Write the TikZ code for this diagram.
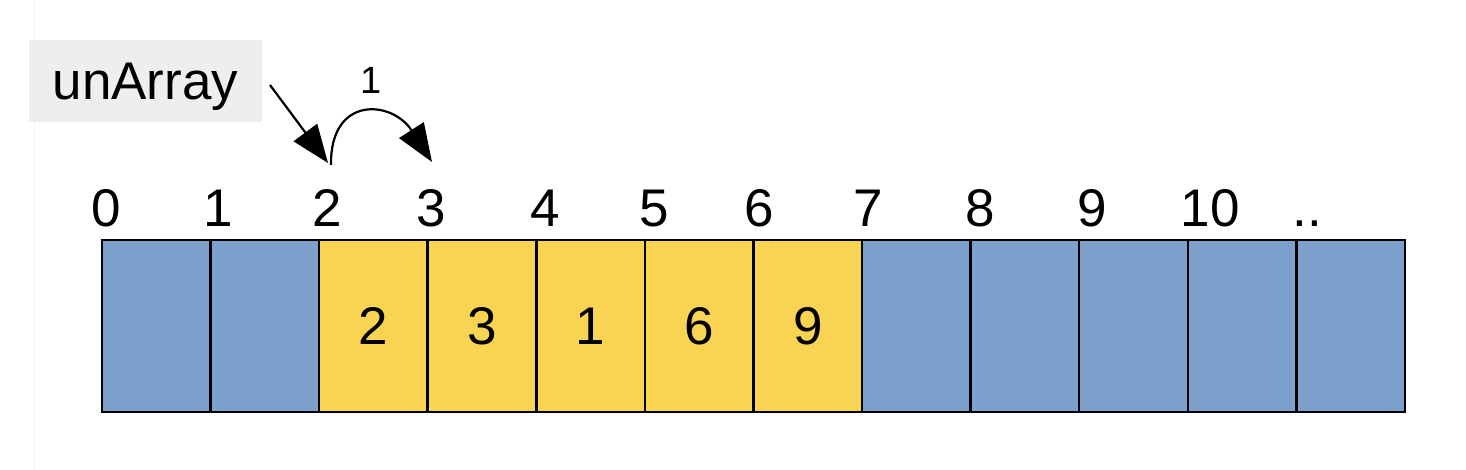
\documentclass[tikz,border=0pt]{standalone}
\usepackage{fontspec}
\setmainfont{Liberation Sans}
\usetikzlibrary{arrows.meta}
\definecolor{cellblue}{HTML}{7BA0CB}
\definecolor{cellyellow}{HTML}{F8D452}
\definecolor{boxgray}{HTML}{EEEEEE}
\tikzset{
  cell/.style={draw=black, line width=2.5pt, minimum width=108.6pt, minimum height=172pt, inner sep=0pt, outer sep=0pt, anchor=north west},
  bluecell/.style={cell, fill=cellblue},
  yelcell/.style={cell, fill=cellyellow},
  idx/.style={anchor=base, inner sep=0pt, font=\fontsize{53pt}{60pt}\selectfont},
  val/.style={anchor=base, inner sep=0pt, font=\fontsize{53pt}{60pt}\selectfont},
  bigarrow/.style={line width=2.2pt, -{Triangle[length=38pt,width=29pt]}},
}
\begin{document}
\begin{tikzpicture}[x=1pt,y=-1pt]
\useasboundingbox (0,0) rectangle (1466,470);
\draw[black!4, line width=1pt] (34,0) -- (34,470);
% label box
\node[fill=boxgray, minimum width=233pt, minimum height=82pt, inner sep=0pt, anchor=north west] (ubox) at (29,40) {};
\node[idx] (ulbl) at (145.5,100) {unArray};
% cells
\foreach \i/\s in {0/bluecell,1/bluecell,2/yelcell,3/yelcell,4/yelcell,5/yelcell,6/yelcell,7/bluecell,8/bluecell,9/bluecell,10/bluecell,11/bluecell}{
  \node[\s] (c\i) at ({102+108.58*\i},240) {};
}
% values
\foreach \i/\v in {2/2,3/3,4/1,5/6,6/9}{
  \node[val] (v\i) at ([yshift=-18pt]c\i.center) {\v};
}
% indices
\foreach \i/\x/\t in {0/106/0,1/218/1,2/327/2,3/431/3,4/545/4,5/654/5,6/759/6,7/868/7,8/980/8,9/1092/9,10/1210/10,11/1307/..}{
  \node[idx] (i\i) at (\x,227) {\t};
}
% arrows
\coordinate (a0) at (270,85);
\coordinate (p2) at (328,163);
\coordinate (q2) at (331,165);
\coordinate (p3) at (432,162);
\draw[bigarrow] (a0) -- (p2);
\draw[bigarrow] (q2) .. controls (330,95) and (392,100) .. (p3);
\node[anchor=base, inner sep=0pt, font=\fontsize{38pt}{44pt}\selectfont] (one) at (371,94) {1};
\end{tikzpicture}
\end{document}
